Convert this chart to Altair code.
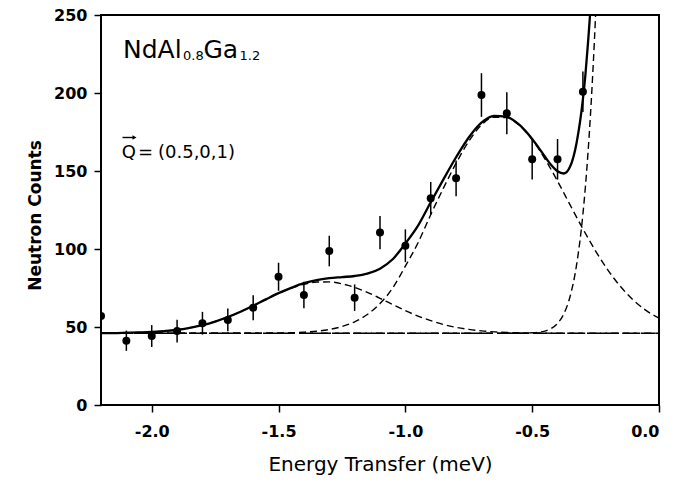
import altair as alt
import pandas as pd

# ---- measured data points ----
energy = [-2.2, -2.1, -2.0, -1.9, -1.8, -1.7, -1.6, -1.5, -1.4, -1.3,
          -1.2, -1.1, -1.0, -0.9, -0.8, -0.7, -0.6, -0.5, -0.4, -0.3]
counts = [57, 41.2, 44.2, 47.4, 52.4, 54.5, 62.4, 82.2, 70.5, 98.7,
          68.8, 110.5, 102.1, 132.5, 145.3, 198.7, 187.0, 157.5, 157.5, 200.8]
errors = [7.5, 6.5, 7.0, 7.3, 7.3, 7.3, 8.0, 9.0, 8.5, 9.8,
          8.5, 10.7, 10.5, 10.5, 11.5, 14.0, 13.5, 13.0, 13.0, 13.0]

# ---- total fit (solid) ----
fit_energy = [-2.2, -2.15, -2.1, -2.05, -2.0, -1.95, -1.9, -1.85, -1.8, -1.75,
              -1.7, -1.65, -1.6, -1.55, -1.5, -1.45, -1.4, -1.35, -1.3, -1.25,
              -1.2, -1.15, -1.1, -1.05, -1.0, -0.95, -0.9, -0.85, -0.8, -0.75,
              -0.7, -0.65, -0.6, -0.55, -0.5, -0.45, -0.425, -0.4, -0.375, -0.35,
              -0.325, -0.3, -0.29, -0.28, -0.27, -0.26]
fit_total = [46.1, 46.1, 46.3, 46.5, 46.8, 47.4, 48.2, 49.5, 51.2, 53.5,
             56.4, 59.8, 63.6, 67.7, 71.7, 75.1, 78.1, 80.1, 81.3, 82.0,
             82.7, 84.2, 87.4, 93.4, 103.5, 115.0, 130.0, 144.6, 158.8, 171.5,
             181.0, 185.4, 184.7, 179.5, 170.5, 159.3, 153.8, 149.8, 148.4, 153.0,
             168.0, 196.0, 212.0, 232.0, 255.0, 285.0]

# ---- main inelastic component (dashed) ----
main_energy = [-2.2, -2.15, -2.1, -2.05, -2.0, -1.95, -1.9, -1.85, -1.8, -1.75,
               -1.7, -1.65, -1.6, -1.55, -1.5, -1.45, -1.4, -1.35, -1.3, -1.25,
               -1.2, -1.15, -1.1, -1.05, -1.0, -0.95, -0.9, -0.85, -0.8, -0.75,
               -0.7, -0.65, -0.6, -0.55, -0.5, -0.45, -0.4, -0.35, -0.3, -0.25,
               -0.2, -0.15, -0.1, -0.05, 0.0]
main_counts = [46, 46, 46, 46, 46, 46, 46, 46, 46, 46,
               46, 46, 46, 46.1, 46.2, 46.3, 46.7, 47.3, 48.4, 50.3,
               53.3, 58.0, 65.0, 75.0, 89.0, 104.0, 122.0, 139.0, 155.0, 169.0,
               179.5, 184.5, 184.2, 179.2, 170.1, 157.8, 143.5, 128.1, 112.9, 98.7,
               86.2, 75.6, 67.1, 60.5, 55.7]

# ---- low-energy component (dashed) ----
low_energy = [-2.2, -2.15, -2.1, -2.05, -2.0, -1.95, -1.9, -1.85, -1.8, -1.75,
              -1.7, -1.65, -1.6, -1.55, -1.5, -1.45, -1.4, -1.35, -1.3, -1.25,
              -1.2, -1.15, -1.1, -1.05, -1.0, -0.95, -0.9, -0.85, -0.8, -0.75,
              -0.7, -0.65, -0.6, -0.55, -0.5, -0.4, -0.2, 0.0]
low_counts = [46.1, 46.1, 46.3, 46.5, 46.8, 47.4, 48.2, 49.5, 51.2, 53.5,
              56.4, 59.8, 63.6, 67.6, 71.5, 74.8, 77.4, 78.8, 78.9, 77.7,
              75.4, 72.2, 68.4, 64.4, 60.5, 57.0, 54.1, 51.6, 49.8, 48.5,
              47.5, 46.9, 46.5, 46.3, 46.2, 46.0, 46.0, 46.0]

# ---- elastic component (dashed) ----
el_energy = [-2.2, -0.55, -0.5, -0.45, -0.425, -0.4, -0.375, -0.35, -0.325, -0.3,
             -0.29, -0.28, -0.27, -0.26, -0.25, -0.24]
el_counts = [46, 46.0, 46.3, 47.4, 49.0, 52.3, 58.5, 69.9, 89.8, 122.3,
             140.2, 161.5, 186.6, 216.0, 250.0, 289.0]

# ---- flat background ----
bg_energy = [-2.2, 0.0]
bg_counts = [46, 46]

x_ticks = [-2.0, -1.5, -1.0, -0.5, 0.0]
y_ticks = [0, 50, 100, 150, 200, 250]

pts = pd.DataFrame({"E": energy, "N": counts, "err": errors})
pts["lo"] = pts["N"] - pts["err"]
pts["hi"] = pts["N"] + pts["err"]

xscale = alt.Scale(domain=[-2.2, 0.0], nice=False, zero=False)
yscale = alt.Scale(domain=[0, 250], nice=False)

xaxis = alt.Axis(values=x_ticks, labelExpr="replace(format(datum.value, '.1f'), '\u2212', '-')",
                 tickSize=7, tickWidth=1.5, tickColor="black", labelPadding=11,
                 labelFont="DejaVu Sans", labelFontWeight="bold", labelFontSize=16,
                 labelColor="black", grid=False, domain=False,
                 titleFont="DejaVu Sans", titleFontWeight="normal", titleFontSize=20,
                 titleColor="black", titleY=65, titleBaseline="alphabetic")
yaxis = alt.Axis(values=y_ticks, format="d", tickSize=7, tickWidth=1.5, tickColor="black",
                 labelPadding=7, labelFont="DejaVu Sans", labelFontWeight="bold",
                 labelFontSize=16, labelColor="black", grid=False, domain=False,
                 titleFont="DejaVu Sans", titleFontWeight="bold", titleFontSize=17,
                 titleColor="black", titleX=-66, titleY=200, titleBaseline="middle",
                 titleAngle=270, titleAlign="center")

X = alt.X("E:Q", scale=xscale, axis=xaxis, title="Energy Transfer (meV)")
Y = alt.Y("N:Q", scale=yscale, axis=yaxis, title="Neutron Counts")


def curve(e, n, **kw):
    df = pd.DataFrame({"E": e, "N": n})
    return alt.Chart(df).mark_line(clip=True, color="black", interpolate="monotone", **kw).encode(x=X, y=Y)


bg = curve(bg_energy, bg_counts, strokeWidth=1.6, strokeDash=[14, 4])
low = curve(low_energy, low_counts, strokeWidth=1.4, strokeDash=[7, 4])
main = curve(main_energy, main_counts, strokeWidth=1.4, strokeDash=[7, 4])
el = curve(el_energy, el_counts, strokeWidth=1.4, strokeDash=[7, 4])
total = curve(fit_energy, fit_total, strokeWidth=2.3)

bars = alt.Chart(pts).mark_rule(color="black", strokeWidth=1.5, clip=True).encode(
    x=X, y=alt.Y("lo:Q", scale=yscale, axis=yaxis, title="Neutron Counts"), y2="hi:Q")
dots = alt.Chart(pts).mark_circle(color="black", opacity=1, size=64, clip=True).encode(x=X, y=Y)


def label(txt, px, py, size, align="left", baseline="alphabetic", weight="normal"):
    return alt.Chart(pd.DataFrame({"t": [txt]})).mark_text(
        align=align, baseline=baseline, font="DejaVu Sans", fontSize=size,
        fontWeight=weight, color="black").encode(
        x=alt.value(px), y=alt.value(py), text="t:N")


texts = [
    label("NdAl", 22, 43.3, 25),
    label("0.8", 82, 44.5, 13),
    label("Ga", 102.5, 43.3, 25),
    label("1.2", 138.5, 44.5, 13),
    label("Q", 20.7, 143.3, 18),
    label("=", 37, 143.3, 18),
    label("(0.5,0,1)", 57, 143.3, 18),
]

# vector arrow over Q
arrow_df = pd.DataFrame({"k": [0]})
shaft = alt.Chart(arrow_df).mark_rule(color="black", strokeWidth=1.4).encode(
    x=alt.value(21.5), x2=alt.value(33), y=alt.value(122.5))
head = alt.Chart(arrow_df).mark_point(shape="triangle-right", filled=True, color="black",
                                      opacity=1, size=22).encode(
    x=alt.value(33.5), y=alt.value(122.5))

chart = alt.layer(bg, low, main, el, total, bars, dots, *texts, shaft, head).properties(
    width=558, height=390,
    autosize=alt.AutoSizeParams(type="none"),
    padding={"left": 101, "top": 15, "right": 15, "bottom": 77},
    background="white",
).configure_view(stroke="black", strokeWidth=2)

chart.save("out.html", embed_options={"renderer": "svg", "actions": False})
